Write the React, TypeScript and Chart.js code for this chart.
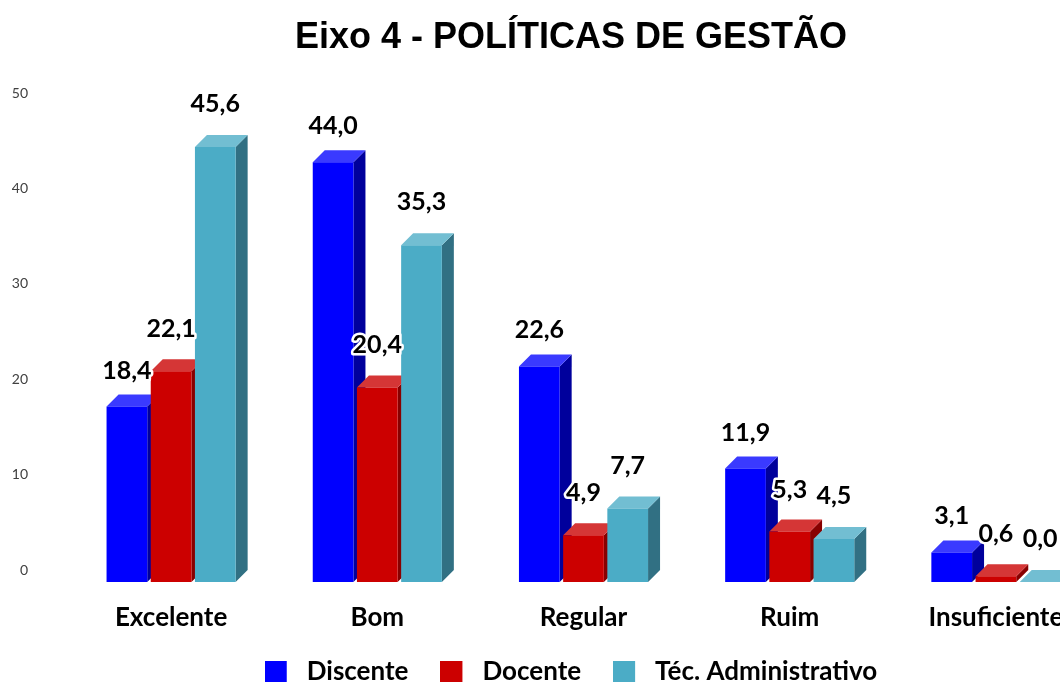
import React, { useEffect, useRef } from 'react';
import { Chart, registerables } from 'chart.js';

Chart.register(...registerables);

// ---- data ----
const TITLE = 'Eixo 4 - POLÍTICAS DE GESTÃO';
const CATEGORIES = ['Excelente', 'Bom', 'Regular', 'Ruim', 'Insuficiente'];
const SERIES_NAMES = ['Discente', 'Docente', 'Téc. Administrativo'];
const DISCENTE = [18.4, 44.0, 22.6, 11.9, 3.1];
const DOCENTE = [22.1, 20.4, 4.9, 5.3, 0.6];
const TEC_ADM = [45.6, 35.3, 7.7, 4.5, 0.0];
const Y_TICKS = [0, 10, 20, 30, 40, 50];

// ---- styles ----
const FRONT = ['#0000FF', '#CC0000', '#4BACC6'];
const TOP = ['#3A3AFF', '#D53636', '#72BED2'];
const SIDE = ['#00009C', '#880000', '#317083'];
const DEPTH = 12;
const LABEL_LIFT = [36, 42, 43];
const W = 1142;
const H = 695;
const LEGEND_PAD = 32;
const LEGEND_FONT = 26;
const SWATCH = 22;
const SWATCH_SLOT = 29;

const fmt = (v: number) => v.toFixed(1).replace('.', ',');

const makeSwatch = (color: string) => {
  const c = document.createElement('canvas');
  c.width = SWATCH_SLOT;
  c.height = SWATCH;
  const g = c.getContext('2d')!;
  g.fillStyle = color;
  g.fillRect(0, 0, SWATCH, SWATCH);
  return c;
};

const bars3d = {
  id: 'bars3d',
  beforeDatasetsDraw(chart: any) {
    const ctx = chart.ctx as CanvasRenderingContext2D;
    const n = chart.data.labels.length;
    const dsCount = chart.data.datasets.length;
    ctx.save();
    for (let j = 0; j < n; j++) {
      for (let i = 0; i < dsCount; i++) {
        const el = chart.getDatasetMeta(i).data[j];
        if (!el) continue;
        const { x, y, base, width } = el.getProps(['x', 'y', 'base', 'width'], true);
        const l = x - width / 2;
        const r = x + width / 2;
        ctx.fillStyle = SIDE[i];
        ctx.beginPath();
        ctx.moveTo(r, y);
        ctx.lineTo(r + DEPTH, y - DEPTH);
        ctx.lineTo(r + DEPTH, base - DEPTH);
        ctx.lineTo(r, base);
        ctx.closePath();
        ctx.fill();
        ctx.fillStyle = TOP[i];
        ctx.beginPath();
        ctx.moveTo(l, y);
        ctx.lineTo(l + DEPTH, y - DEPTH);
        ctx.lineTo(r + DEPTH, y - DEPTH);
        ctx.lineTo(r, y);
        ctx.closePath();
        ctx.fill();
      }
    }
    ctx.restore();
  },
  afterDatasetsDraw(chart: any) {
    const ctx = chart.ctx as CanvasRenderingContext2D;
    ctx.save();
    ctx.font = 'bold 25px Lato';
    ctx.textAlign = 'center';
    ctx.textBaseline = 'middle';
    ctx.lineJoin = 'round';
    chart.data.datasets.forEach((ds: any, i: number) => {
      const meta = chart.getDatasetMeta(i);
      meta.data.forEach((el: any, j: number) => {
        const { x, y } = el.getProps(['x', 'y'], true);
        const text = fmt(ds.data[j]);
        const ty = y - LABEL_LIFT[i];
        ctx.strokeStyle = '#FFFFFF';
        ctx.lineWidth = 5;
        ctx.strokeText(text, x, ty);
        ctx.fillStyle = '#000000';
        ctx.fillText(text, x, ty);
      });
    });
    ctx.restore();
  },
};

export default function App() {
  const ref = useRef<HTMLCanvasElement | null>(null);

  useEffect(() => {
    document.documentElement.style.overflow = 'hidden';
    document.body.style.overflow = 'hidden';
    let chart: Chart | null = null;
    let cancelled = false;
    const make = () => {
      if (cancelled || !ref.current) return;
      const swatches = FRONT.map(makeSwatch);
      chart = new Chart(ref.current, {
        type: 'bar',
        data: {
          labels: CATEGORIES,
          datasets: [DISCENTE, DOCENTE, TEC_ADM].map((d, i) => ({
            label: SERIES_NAMES[i],
            data: d,
            backgroundColor: FRONT[i],
            borderWidth: 0,
            yAxisID: 'y',
            categoryPercentage: 0.643,
            barPercentage: 0.921,
          })),
        },
        options: {
          responsive: false,
          animation: false,
          layout: { padding: 0 },
          plugins: {
            title: {
              display: true,
              text: TITLE,
              color: '#000000',
              font: { family: 'Liberation Sans', size: 36, weight: 'bold' },
              padding: { top: 16, bottom: 45.8 },
            },
            legend: {
              display: true,
              position: 'bottom',
              labels: {
                usePointStyle: true,
                pointStyleWidth: SWATCH_SLOT,
                boxHeight: SWATCH,
                padding: LEGEND_PAD,
                color: '#000000',
                font: { family: 'Lato', size: LEGEND_FONT, weight: 'bold' },
                generateLabels: (c: any) =>
                  Chart.defaults.plugins.legend.labels
                    .generateLabels(c)
                    .map((it: any, i: number) => ({ ...it, pointStyle: swatches[i], lineWidth: 0 })),
              },
            },
            tooltip: { enabled: false },
          },
          scales: {
            x: {
              grid: { display: false, drawTicks: false },
              border: { display: false },
              ticks: {
                color: '#000000',
                mirror: true,
                padding: -51,
                font: { family: 'Lato', size: LEGEND_FONT, weight: 'bold' },
              },
              afterFit: (s: any) => {
                s.height = 77 - LEGEND_PAD;
              },
            },
            y: {
              min: 0,
              max: 50,
              grid: { display: false, drawTicks: false },
              border: { display: false },
              afterBuildTicks: (s: any) => {
                s.ticks = Y_TICKS.map((v) => ({ value: v }));
              },
              ticks: {
                color: '#404040',
                padding: 40,
                labelOffset: -12,
                font: { family: 'Lato', size: 14 },
              },
              afterFit: (s: any) => {
                s.width = 68;
              },
            },
            y2: {
              position: 'right',
              display: true,
              grid: { display: false, drawTicks: false },
              border: { display: false },
              ticks: { display: false },
              afterFit: (s: any) => {
                s.width = 43;
              },
            },
          },
        },
        plugins: [bars3d],
      } as any);
    };
    Promise.all([
      document.fonts.load('bold 26px Lato'),
      document.fonts.load('14px Lato'),
      document.fonts.load('bold 36px "Liberation Sans"'),
    ])
      .catch(() => null)
      .then(make);
    return () => {
      cancelled = true;
      if (chart) chart.destroy();
    };
  }, []);

  return (
    <div style={{ position: 'fixed', left: 0, top: 0, width: W, height: H, background: '#fff' }}>
      <canvas ref={ref} width={W} height={H} style={{ display: 'block' }} />
    </div>
  );
}
